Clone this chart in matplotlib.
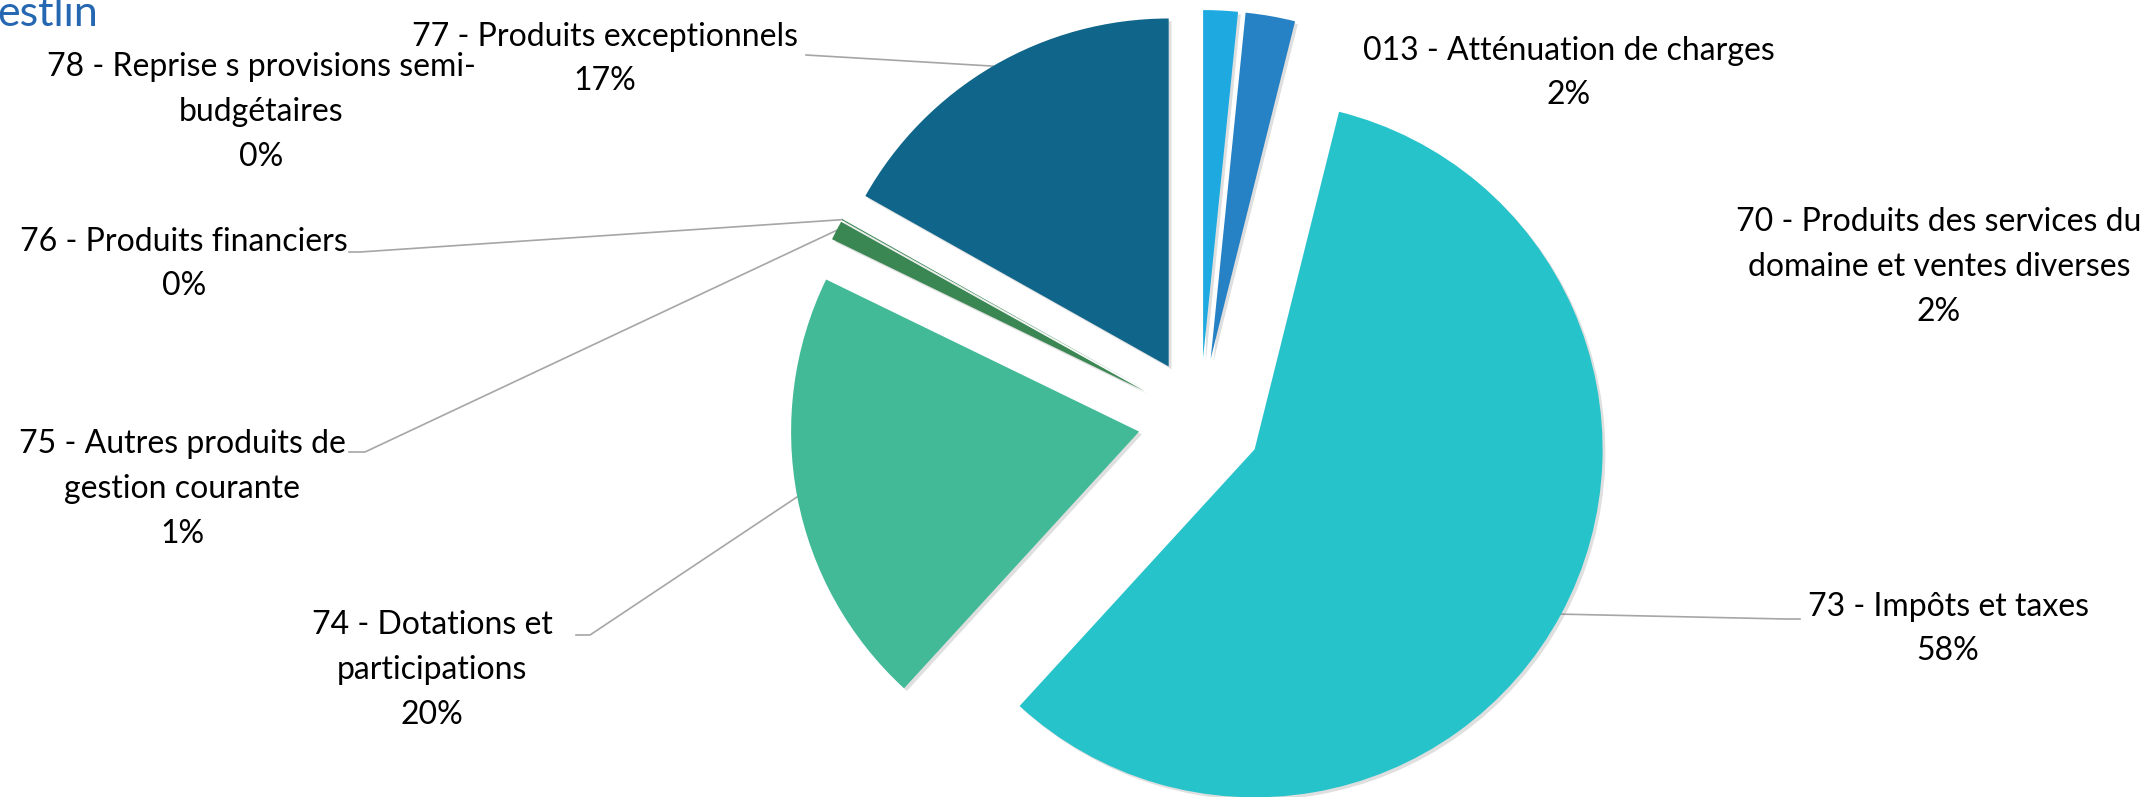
import matplotlib
matplotlib.use('Agg')
import matplotlib.pyplot as plt
import matplotlib.patheffects as pe
import numpy as np

plt.rcParams['font.family'] = ['Lato', 'DejaVu Sans']

# données (en % du total des recettes)
codes = ['013', '70', '73', '74', '75', '76', '78', '77']
noms = ['013 - Atténuation de charges',
        '70 - Produits des services du\ndomaine et ventes diverses',
        '73 - Impôts et taxes',
        '74 - Dotations et\nparticipations',
        '75 - Autres produits de\ngestion courante',
        '76 - Produits financiers',
        '78 - Reprise s provisions semi-\nbudgétaires',
        '77 - Produits exceptionnels']
valeurs = [1.6, 2.3, 57.9, 20.4, 0.9, 0.05, 0.0, 16.85]
couleurs = ['#1EAAE0', '#2781C5', '#27C3CA', '#42BA97', '#3A8753', '#3A8753', '#1B5E7A', '#10668A']

W, H = 2149, 797
fig = plt.figure(figsize=(W / 100, H / 100), dpi=100)
ax = fig.add_axes([0, 0, 1, 1])

# centre, rayon et éclatement en pixels (y vers le haut)
cx, cy, R = 1200, H - 420, 348
wedges, _ = ax.pie(valeurs, colors=couleurs, startangle=90, counterclock=False,
                   explode=[62] * len(valeurs), center=(cx, cy), radius=R,
                   wedgeprops=dict(linewidth=0))
for w in wedges:
    w.set_path_effects([pe.SimplePatchShadow(offset=(2, -2), shadow_rgbFace='#808080', alpha=0.25),
                        pe.Normal()])

ax.set_xlim(0, W)
ax.set_ylim(0, H)
ax.set_aspect('auto')
ax.axis('off')

# position des étiquettes (x, y en px depuis le haut) et point d'attache de la ligne
pos = {'013': (1569, 73, None),
       '70': (1939, 267, None),
       '73': (1948, 629, [(1800, 619), (1785, 619)]),
       '74': (432, 670, [(576, 635), (590, 635)]),
       '75': (182, 489, [(349, 452), (365, 452)]),
       '76': (184, 264, [(349, 252), (360, 252)]),
       '78': (261, 112, None),
       '77': (605, 59, [(806, 55)])}

for code, nom, v, w in zip(codes, noms, valeurs, wedges):
    x, y, ligne = pos[code]
    ax.text(x, H - y, '%s\n%.0f%%' % (nom, v), ha='center', va='center',
            fontsize=23, linespacing=1.62, color='black')
    if ligne:
        a = np.deg2rad((w.theta1 + w.theta2) / 2)
        px = w.center[0] + w.r * np.cos(a)
        py = w.center[1] + w.r * np.sin(a)
        xs = [p[0] for p in ligne] + [px]
        ys = [H - p[1] for p in ligne] + [py]
        ax.plot(xs, ys, color='#A6A6A6', lw=1.2, zorder=0)

# logo coupé en haut à gauche
ax.text(-3, H - 26, 'estlin', ha='left', va='baseline', fontsize=31, fontweight='normal',
        color='#2567B0')

fig.savefig('out.png', dpi=100)
